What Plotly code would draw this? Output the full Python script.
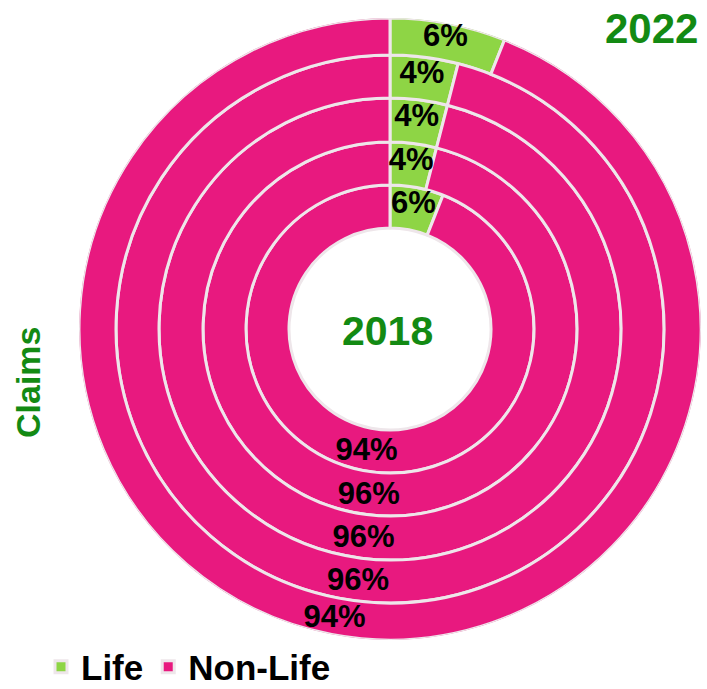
import plotly.graph_objects as go

# Share of claims, innermost ring = 2018, outermost = 2022
years = ['2018', '2019', '2020', '2021', '2022']
life = [6, 4, 4, 4, 6]
non_life = [94, 96, 96, 96, 94]

W, H = 707, 689
cx, cy, R = 390, 329, 311          # ring centre and outer radius in px
ring_edges = [101, 144, 187, 231, 274, 311]   # radii from hole to outside

pink = '#E8197F'
green = '#8ED545'
title_green = '#138A13'
font = 'Liberation Sans, Arial, sans-serif'

inner = ring_edges[:-1]
width = [ring_edges[i + 1] - ring_edges[i] for i in range(len(years))]

# angles (degrees, clockwise from 12 o'clock)
life_theta = [v * 3.6 / 2 for v in life]
life_w = [v * 3.6 for v in life]
nl_theta = [(l + n / 2) * 3.6 for l, n in zip(life, non_life)]
nl_w = [n * 3.6 for n in non_life]
mid_r = [b + w / 2 + 3 for b, w in zip(inner, width)]

fig = go.Figure()
fig.add_trace(go.Barpolar(
    name='Life', r=width, base=inner, theta=life_theta, width=life_w,
    marker=dict(color=green, line=dict(color='#EEE6EA', width=3)),
))
fig.add_trace(go.Barpolar(
    name='Non-Life', r=width, base=inner, theta=nl_theta, width=nl_w,
    marker=dict(color=pink, line=dict(color='#EEE6EA', width=3)),
))

# percentage labels
fig.add_trace(go.Scatterpolar(
    r=mid_r + mid_r, theta=life_theta + nl_theta, mode='text',
    text=[f'{v}%' for v in life] + [f'{v}%' for v in non_life],
    textfont=dict(family=font, size=31, color='black', weight='bold'),
    showlegend=False, hoverinfo='skip',
))

fig.update_layout(
    width=W, height=H,
    margin=dict(l=0, r=0, t=0, b=0, autoexpand=False),
    paper_bgcolor='white',
    polar=dict(
        domain=dict(x=[(cx - R) / W, (cx + R) / W],
                    y=[(H - cy - R) / H, (H - cy + R) / H]),
        bgcolor='rgba(0,0,0,0)',
        barmode='overlay', bargap=0, hole=0,
        radialaxis=dict(range=[0, R], visible=False),
        angularaxis=dict(visible=False, rotation=90, direction='clockwise'),
    ),
    legend=dict(orientation='h', x=41 / W, y=1 - 667 / H, xanchor='left', yanchor='middle',
                font=dict(family=font, size=35, color='black', weight='bold'),
                itemwidth=30, bgcolor='rgba(0,0,0,0)'),
    annotations=[
        dict(text=years[0], x=387 / W, y=1 - 331 / H, xref='paper', yref='paper',
             xanchor='center', yanchor='middle', showarrow=False,
             font=dict(family=font, size=41, color=title_green, weight='bold')),
        dict(text=years[-1], x=651 / W, y=1 - 28 / H, xref='paper', yref='paper',
             xanchor='center', yanchor='middle', showarrow=False,
             font=dict(family=font, size=42, color=title_green, weight='bold')),
        dict(text='Claims', x=28 / W, y=1 - 382 / H, xref='paper', yref='paper',
             xanchor='center', yanchor='middle', showarrow=False, textangle=-90,
             font=dict(family=font, size=34, color=title_green, weight='bold')),
    ],
)

fig.write_html("out.html", config={'displayModeBar': False},
               post_script="document.body.style.margin='0';")
